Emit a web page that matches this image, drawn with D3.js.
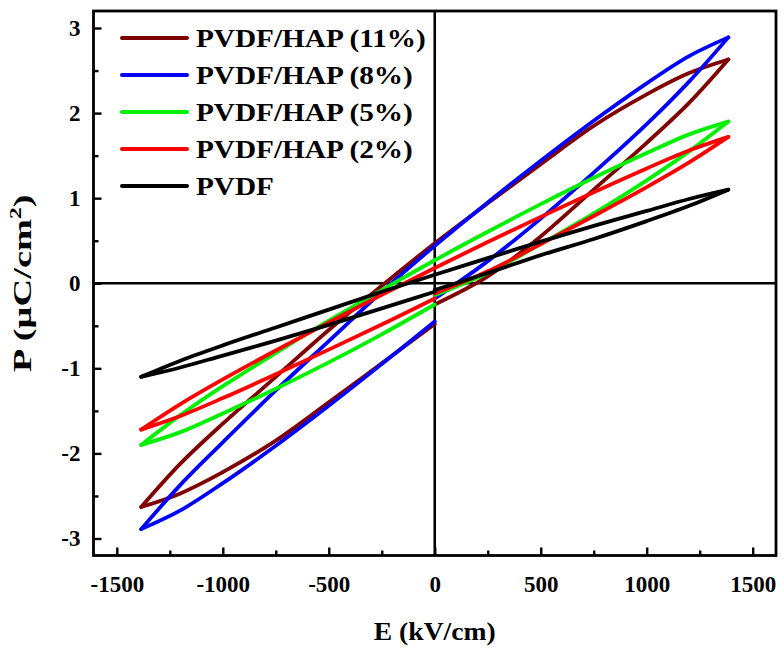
<!DOCTYPE html>
<html><head><meta charset="utf-8">
<script src="https://cdn.jsdelivr.net/npm/d3@7"></script>
<style>body{margin:0;background:#fff}</style>
</head><body>
<svg id="c" width="784" height="653"></svg>
<script>
// ---- data (E in kV/cm, P in uC/cm2) ----
const seriesNames = ["PVDF/HAP (11%)","PVDF/HAP (8%)","PVDF/HAP (5%)","PVDF/HAP (2%)","PVDF"];
const seriesColors = ["#7f0000","#0000ff","#00f000","#ff0000","#000000"];
const eLeft  = [-1385,-1200,-1000,-750,-500,-250,0];
const eRight = [0,250,500,750,1000,1200,1385];
const eUpper = [1385,1200,1000,750,500,250,0,-250,-500,-750,-1000,-1200,-1385];

// upper branch (E decreasing from +Emax to -Emax)
const hap11Upper = [2.63,2.47,2.22,1.85,1.40,0.94,0.47,-0.03,-0.55,-1.10,-1.65,-2.12,-2.63];
const hap8Upper  = [2.89,2.67,2.35,1.91,1.44,0.95,0.44,-0.10,-0.68,-1.26,-1.87,-2.37,-2.89];
const hap5Upper  = [1.90,1.75,1.53,1.24,0.93,0.605,0.27,-0.08,-0.44,-0.82,-1.21,-1.55,-1.90];
const hap2Upper  = [1.72,1.56,1.35,1.07,0.78,0.485,0.18,-0.135,-0.46,-0.79,-1.13,-1.42,-1.72];
const pvdfUpper  = [1.10,0.99,0.85,0.675,0.49,0.295,0.10,-0.10,-0.31,-0.52,-0.73,-0.91,-1.10];
// lower branch, left half (E increasing from -Emax to 0)
const hap11LowerL = [-2.63,-2.47,-2.22,-1.85,-1.40,-0.94,-0.48];
const hap8LowerL  = [-2.89,-2.67,-2.35,-1.91,-1.44,-0.95,-0.45];
const hap5LowerL  = [-1.90,-1.75,-1.53,-1.24,-0.93,-0.60,-0.25];
const hap2LowerL  = [-1.72,-1.56,-1.35,-1.07,-0.78,-0.485,-0.18];
const pvdfLowerL  = [-1.10,-0.99,-0.85,-0.675,-0.49,-0.295,-0.10];
// lower branch, right half (E increasing from 0 to +Emax)
const hap11LowerR = [-0.25,0.08,0.55,1.10,1.65,2.12,2.63];
const hap8LowerR  = [-0.18,0.26,0.76,1.30,1.87,2.37,2.89];
const hap5LowerR  = [-0.14,0.12,0.46,0.82,1.21,1.55,1.90];
const hap2LowerR  = [-0.12,0.14,0.46,0.79,1.13,1.42,1.72];
const pvdfLowerR  = [-0.08,0.12,0.33,0.52,0.73,0.91,1.10];

const xTicks = [-1500,-1000,-500,0,500,1000,1500];
const xMinor = [-1250,-750,-250,250,750,1250];
const yTicks = [-3,-2,-1,0,1,2,3];
const yMinor = [-2.5,-1.5,-0.5,0.5,1.5,2.5];

const uppers = [hap11Upper,hap8Upper,hap5Upper,hap2Upper,pvdfUpper];
const lowersL = [hap11LowerL,hap8LowerL,hap5LowerL,hap2LowerL,pvdfLowerL];
const lowersR = [hap11LowerR,hap8LowerR,hap5LowerR,hap2LowerR,pvdfLowerR];

// ---- layout ----
const svg = d3.select("#c");
const L = 93.5, R = 776, T = 11, B = 555.5;
const x = d3.scaleLinear().domain([-1610,1610]).range([L,R]);
const y = d3.scaleLinear().domain([-3.2,3.2]).range([B,T]);
const font = "'Liberation Serif','Times New Roman',Times,serif";
const fmt = d => String(d);

// zero lines
svg.append("line").attr("x1",x(0)).attr("x2",x(0)).attr("y1",T).attr("y2",B)
  .attr("stroke","#000").attr("stroke-width",2.6);
svg.append("line").attr("x1",L).attr("x2",R).attr("y1",y(0)).attr("y2",y(0))
  .attr("stroke","#000").attr("stroke-width",2.6);

// curves
const line = d3.line().x(d=>x(d[0])).y(d=>y(d[1])).curve(d3.curveCatmullRom.alpha(0.5));
const g = svg.append("g");
for (let i=0;i<seriesNames.length;i++){
  const parts = [
    eRight.map((e,j)=>[e,lowersR[i][j]]),
    eUpper.map((e,j)=>[e,uppers[i][j]]),
    eLeft.map((e,j)=>[e,lowersL[i][j]])
  ];
  parts.forEach(p=>{
    g.append("path").attr("d",line(p)).attr("fill","none")
     .attr("stroke",seriesColors[i]).attr("stroke-width",3.8)
     .attr("stroke-linecap","round").attr("stroke-linejoin","round");
  });
}

// axes (ticks inward)
const xAxis = d3.axisBottom(x).tickValues(xTicks).tickSizeInner(-8).tickSizeOuter(0).tickPadding(20).tickFormat(fmt);
const gx = svg.append("g").attr("transform",`translate(0,${B})`).call(xAxis);
gx.select(".domain").remove();
gx.selectAll(".tick line").attr("stroke","#000").attr("stroke-width",2.4);
gx.selectAll("text").attr("font-family",font).attr("font-weight","bold").attr("font-size",23).attr("fill","#000");
const gxm = svg.append("g").attr("transform",`translate(0,${B})`)
  .call(d3.axisBottom(x).tickValues(xMinor).tickSizeInner(-5).tickSizeOuter(0).tickFormat(""));
gxm.select(".domain").remove();
gxm.selectAll(".tick line").attr("stroke","#000").attr("stroke-width",2.4);

const yAxis = d3.axisLeft(y).tickValues(yTicks).tickSizeInner(-8).tickSizeOuter(0).tickPadding(13).tickFormat(fmt);
const gy = svg.append("g").attr("transform",`translate(${L},0)`).call(yAxis);
gy.select(".domain").remove();
gy.selectAll(".tick line").attr("stroke","#000").attr("stroke-width",2.4);
gy.selectAll("text").attr("font-family",font).attr("font-weight","bold").attr("font-size",23).attr("fill","#000");
const gym = svg.append("g").attr("transform",`translate(${L},0)`)
  .call(d3.axisLeft(y).tickValues(yMinor).tickSizeInner(-5).tickSizeOuter(0).tickFormat(""));
gym.select(".domain").remove();
gym.selectAll(".tick line").attr("stroke","#000").attr("stroke-width",2.4);

// frame
svg.append("rect").attr("x",L).attr("y",T).attr("width",R-L).attr("height",B-T)
  .attr("fill","none").attr("stroke","#000").attr("stroke-width",2.8);

// helper: stretched text group
function stretched(parent, tx, ty, rot, anchor, size, target, build){
  const outer = parent.append("g").attr("transform",`translate(${tx},${ty}) rotate(${rot})`);
  const inner = outer.append("g");
  const t = inner.append("text").attr("text-anchor",anchor).attr("font-family",font)
    .attr("font-weight","bold").attr("font-size",size).attr("fill","#000");
  build(t);
  const w = t.node().getBBox().width;
  inner.attr("transform",`scale(${target/w},1)`);
  return t;
}

// axis titles
stretched(svg, x(0), 640, 0, "middle", 26, 122, t=>t.text("E (kV/cm)"));
stretched(svg, 31, y(0), -90, "middle", 26, 178, t=>{
  t.append("tspan").text("P (\u03bcC/cm");
  t.append("tspan").attr("font-size",16).attr("dy",-10).text("2");
  t.append("tspan").attr("dy",10).text(")");
});

// legend
const lg = svg.append("g");
let legendScale = null;
seriesNames.forEach((n,i)=>{
  const yy = 38 + i*37;
  lg.append("line").attr("x1",122).attr("x2",187).attr("y1",yy).attr("y2",yy)
    .attr("stroke",seriesColors[i]).attr("stroke-width",4).attr("stroke-linecap","round");
  const outer = lg.append("g").attr("transform",`translate(196,${yy+9})`);
  const inner = outer.append("g");
  const t = inner.append("text").attr("font-family",font)
    .attr("font-weight","bold").attr("font-size",26).text(n);
  if (legendScale===null) legendScale = 230 / t.node().getBBox().width;
  inner.attr("transform",`scale(${legendScale},1)`);
});
</script>
</body></html>
